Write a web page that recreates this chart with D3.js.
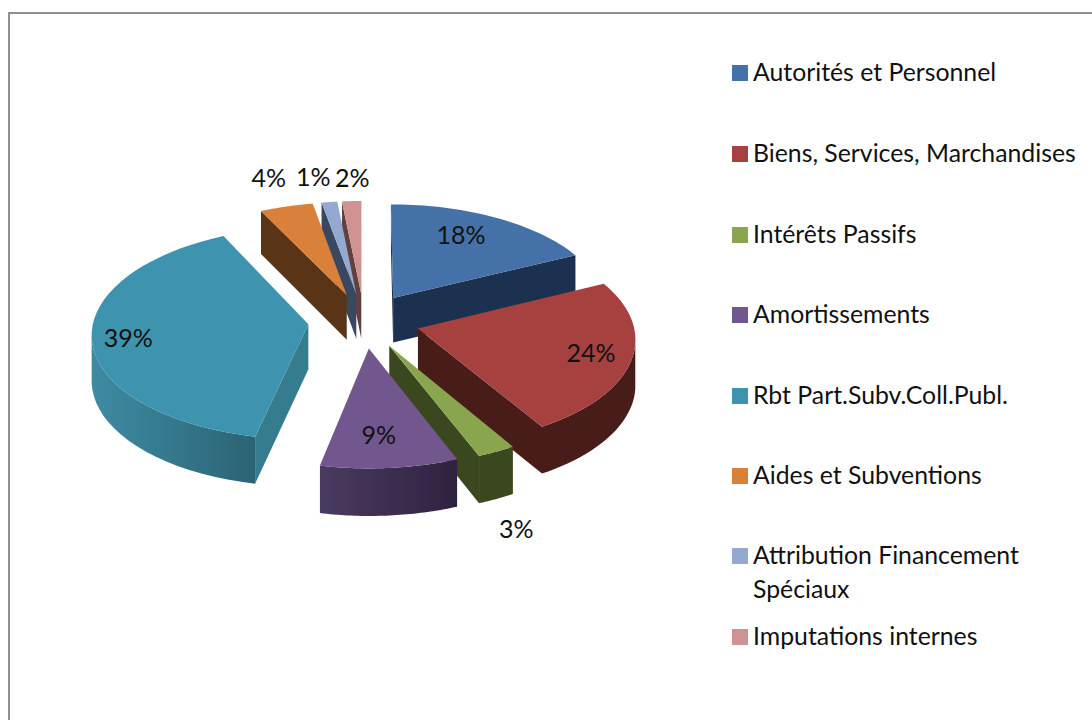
<!DOCTYPE html>
<html><head><meta charset="utf-8">
<script src="https://d3js.org/d3.v7.min.js"></script>
<style>html,body{margin:0;padding:0;background:#fff;overflow:hidden}svg{display:block}text{font-family:Lato,"Open Sans",sans-serif;fill:#111}</style>
</head><body><svg id="c" width="1092" height="720"></svg>
<script>
const categories=["Autorités et Personnel","Biens, Services, Marchandises","Intérêts Passifs","Amortissements","Rbt Part.Subv.Coll.Publ.","Aides et Subventions","Attribution Financement Spéciaux","Imputations internes"];
const values=[17.8,23.6,2.6,9.3,39.4,4.4,1.3,1.6];
const topColors=["#4471a8","#a64140","#89a54e","#71578e","#3e94ae","#d9813a","#93a9cf","#d09392"];
const faceColors=["#1c3150","#481c18","#3a471f","#3a2b4e","#357d8e","#5a3416","#3a4760","#62403e"];
const wallLight=["#1c3150","#481c18","#3a471f","#4a3b60","#3d8ba3","#5a3416","#3a4760","#62403e"];
const wallDark=["#1c3150","#481c18","#3a471f","#2f2240","#2b6474","#5a3416","#3a4760","#62403e"];
const labelOffsets=[[68,-63],[173,25],[127,184],[10,87],[-180,14],[-78,-117],[-43,-117],[-9,-116]];
const legendLines=[["Autorités et Personnel"],["Biens, Services, Marchandises"],["Intérêts Passifs"],["Amortissements"],["Rbt Part.Subv.Coll.Publ."],["Aides et Subventions"],["Attribution Financement","Spéciaux"],["Imputations internes"]];
const legendY=[73,154,235,315,396,476,556,637];

const svg=d3.select("#c");
svg.append("rect").attr("x",9).attr("y",13).attr("width",1300).attr("height",900).attr("fill","#fff").attr("stroke","#8f8f8f").attr("stroke-width",2);

const cx=364,cy=320.7,R=215,K=105,D=12,H=45,E=0.26;
const project=(X,Y)=>{const s=D/(D+Y);return {x:cx+X*R*s,y:cy-K*Y*s,s};};
const line=d3.line().x(p=>p[0]).y(p=>p[1]).curve(d3.curveLinear);
const pieData=d3.pie().sort(null).startAngle(0).endAngle(2*Math.PI)(values);
const total=d3.sum(values);
const defs=svg.append("defs");

const slices=pieData.map((d,i)=>{
  const m=(d.startAngle+d.endAngle)/2, ox=E*Math.sin(m), oy=E*Math.cos(m);
  const at=(r,a)=>project(ox+r*Math.sin(a),oy+r*Math.cos(a));
  const angles=d3.range(0,41).map(k=>d.startAngle+(d.endAngle-d.startAngle)*k/40);
  return {i,d,m,oy,at,angles,apex:at(0,0)};
});
const down=p=>[p.x,p.y+H*Math.sqrt(p.s)];
const top2=p=>[p.x,p.y];
const area=q=>-d3.polygonArea(q);

slices.sort((a,b)=>b.oy-a.oy);
slices.forEach(s=>{
  const g=svg.append("g");
  const i=s.i,apex=s.apex;
  const gid="w"+i;
  const lg=defs.append("linearGradient").attr("id",gid);
  lg.append("stop").attr("offset",0).attr("stop-color",wallLight[i]);
  lg.append("stop").attr("offset",1).attr("stop-color",wallDark[i]);
  const p0=s.at(1,s.d.startAngle),p1=s.at(1,s.d.endAngle);
  const startQ=[top2(apex),top2(p0),down(p0),down(apex)];
  const endQ=[top2(apex),top2(p1),down(p1),down(apex)];
  const faces=[];
  if(area(startQ)<0) faces.push(startQ);
  if(area(endQ)>0) faces.push(endQ);
  faces.forEach(q=>g.append("path").attr("d",line(q)+"Z").attr("fill",faceColors[i]));
  const arcPts=s.angles.map(a=>s.at(1,a));
  const vis=arcPts.filter((p,k)=>{
    const a=arcPts[Math.max(k-1,0)],b=arcPts[Math.min(k+1,arcPts.length-1)];
    return b.x<a.x;});
  if(vis.length>1){
    const poly=vis.map(top2).concat(vis.slice().reverse().map(down));
    g.append("path").attr("d",line(poly)+"Z").attr("fill",`url(#${gid})`);
  }
  const topPoly=[top2(apex)].concat(arcPts.map(top2));
  g.append("path").attr("d",line(topPoly)+"Z").attr("fill",topColors[i]);
});
slices.sort((a,b)=>a.i-b.i).forEach(s=>{
  const o=labelOffsets[s.i];
  svg.append("text").attr("x",s.apex.x+o[0]).attr("y",s.apex.y+o[1]).attr("dy","0.35em")
    .attr("text-anchor","middle").attr("font-size",25)
    .text(Math.round(values[s.i]/total*100)+"%");
});
categories.forEach((c,i)=>{
  svg.append("rect").attr("x",732).attr("y",legendY[i]-8).attr("width",16).attr("height",16).attr("fill",topColors[i]);
  const t=svg.append("text").attr("font-size",24.8);
  legendLines[i].forEach((l,j)=>t.append("tspan").attr("x",753).attr("y",legendY[i]-1+j*34).attr("dy","0.35em").text(l));
});
</script></body></html>
